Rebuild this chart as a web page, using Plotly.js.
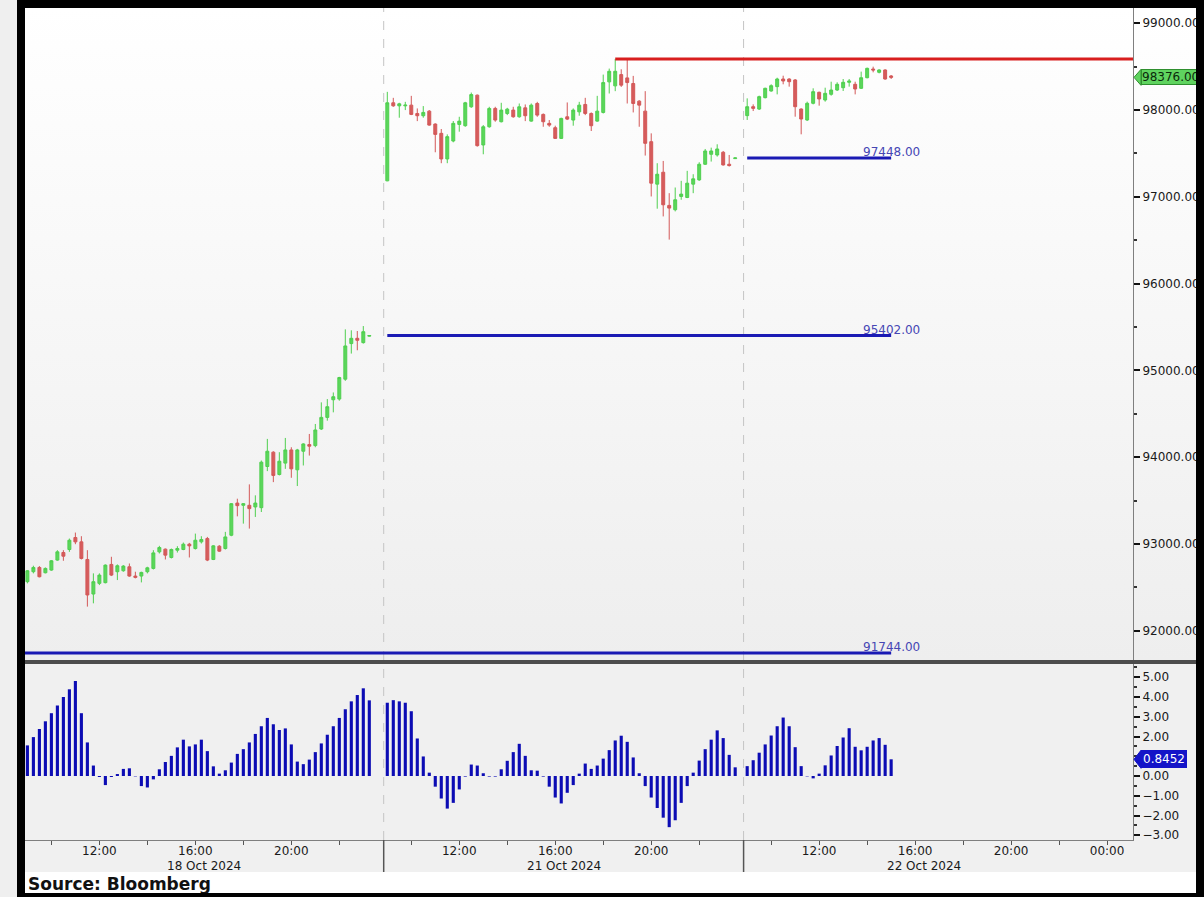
<!DOCTYPE html>
<html><head><meta charset="utf-8">
<script src="https://cdn.plot.ly/plotly-3.0.1.min.js"></script>
<style>
html,body{margin:0;padding:0;background:#efefef;width:1204px;height:897px;overflow:hidden;}
.abs{position:absolute;}
</style></head><body>
<div class="abs" style="left:25px;top:8px;width:1171px;height:652px;background:linear-gradient(#ffffff,#eeeeee);"></div>
<div class="abs" style="left:25px;top:660px;width:1171px;height:212px;background:#f0f0f0;"></div>
<div class="abs" style="left:25px;top:872px;width:1171px;height:21px;background:#ffffff;"></div>
<div id="chart" class="abs" style="left:0;top:0;width:1204px;height:897px;"></div>
<div class="abs" style="left:17px;top:0;width:8px;height:897px;background:#000;"></div>
<div class="abs" style="left:17px;top:0;width:1187px;height:8px;background:#000;"></div>
<div class="abs" style="left:1196px;top:0;width:8px;height:897px;background:#000;"></div>
<div class="abs" style="left:17px;top:893px;width:1187px;height:4px;background:#000;"></div>
<script>
// ---------- data ----------
const sessionDates = ['18 Oct 2024', '21 Oct 2024', '22 Oct 2024'];
const sessionOpenHour = 9;      // each session runs 09:00 -> 24:00
const sessionHours = 15;
const barMinutes = 15;

const open18  = [92566,92681,92730,92669,92700,92815,92902,92937,93075,93025,92822,92424,92547,92555,92765,92681,92692,92738,92631,92631,92681,92719,92910,92941,92845,92929,92937,92998,92948,93025,93063,92822,92975,92948,93101,93472,93446,93446,93427,93419,93893,94058,93801,93932,94084,93855,94069,94146,94134,94325,94459,94662,94670,94899,95309,95370,95320,95395];
const high18  = [92700,92750,92746,92730,92815,92929,92929,93063,93132,93090,92929,92662,92662,92765,92853,92765,92757,92776,92681,92681,92738,92929,92979,92948,92948,92975,93017,93013,93120,93090,93082,92987,92987,93140,93472,93522,93472,93687,93561,93962,94211,94069,94058,94222,94115,94096,94161,94268,94383,94632,94670,94746,94926,95473,95462,95454,95511,95406];
const low18   = [92547,92662,92616,92662,92692,92807,92807,92910,92998,92822,92279,92317,92527,92547,92631,92585,92681,92623,92604,92558,92662,92707,92891,92822,92834,92902,92929,92845,92937,93006,92803,92815,92910,92937,93090,93319,93235,93178,93312,93369,93840,93713,93790,93866,93763,93668,93905,94019,94115,94314,94421,94517,94651,94880,95194,95232,95309,95390];
const close18 = [92692,92730,92623,92719,92807,92910,92860,93044,93025,92834,92413,92566,92642,92757,92642,92750,92746,92631,92616,92673,92726,92898,92960,92872,92937,92948,92998,92979,93044,93052,92815,92979,92918,93082,93465,93442,93465,93408,93472,93943,94069,93790,93954,94084,93866,94084,94153,94127,94314,94459,94582,94697,94918,95282,95370,95347,95446,95402];
const hist18  = [1.55,1.97,2.38,2.77,3.18,3.57,4.0,4.39,4.81,3.18,1.70,0.53,-0.05,-0.46,-0.05,0.1,0.36,0.39,-0.02,-0.51,-0.58,-0.17,0.34,0.71,1.02,1.45,1.84,1.50,1.60,1.84,1.26,0.49,0.12,0.29,0.68,1.12,1.36,1.70,2.13,2.52,2.94,2.62,2.33,2.41,1.60,0.73,0.60,0.83,1.21,1.65,2.09,2.52,2.94,3.38,3.78,4.10,4.44,3.83];

const open21  = [97184,98083,98048,98048,98056,97960,97934,97987,97838,97731,97436,97643,97834,97819,98037,98171,97597,97807,98018,97865,97960,97999,97922,98025,97872,98075,97949,97846,97796,97673,97922,97884,97979,98064,97960,97872,97972,98324,98278,98408,98370,98305,98102,97987,97635,97146,97283,96901,96851,97004,96992,97146,97195,97375,97490,97482,97513,97375,97440];
const high21  = [98209,98140,98083,98094,98163,98018,98045,97999,97846,97781,97719,97873,97922,98094,98201,98178,97826,98037,98037,98083,98025,98037,98075,98064,98075,98094,97960,97884,97819,97911,98087,98018,98094,98140,97972,98163,98408,98477,98588,98469,98580,98393,98113,98217,97731,97387,97413,97042,97107,97184,97299,97260,97398,97551,97566,97605,97528,97482,97452];
const low21   = [97180,98037,97911,97999,97941,97872,97911,97819,97513,97387,97387,97628,97750,97807,98025,97578,97490,97796,97865,97857,97941,97911,97911,97872,97865,97922,97807,97807,97666,97666,97884,97819,97934,97941,97758,97865,97960,98190,98217,98266,98075,97972,97807,97475,97004,96863,96774,96507,96832,96966,96985,97042,97184,97367,97406,97463,97360,97348,97438];
const close21 = [98083,98048,98071,98056,97949,97934,97972,97826,97719,97436,97693,97846,97872,98083,98178,97589,97807,98018,97884,97999,98010,97922,98037,97934,98056,97941,97865,97826,97673,97903,97895,97999,98056,97960,97819,97987,98316,98446,98446,98286,98316,98075,98056,97616,97157,97260,96908,96870,96966,97031,97157,97207,97375,97528,97528,97551,97367,97360,97448];
const hist21  = [3.71,3.84,3.78,3.71,3.28,1.90,0.99,0.17,-0.54,-1.14,-1.65,-1.36,-0.68,-0.03,0.58,0.53,0.14,-0.03,-0.03,0.34,0.77,1.21,1.63,1.02,0.29,0.27,-0.03,-0.54,-1.09,-1.39,-0.85,-0.46,0.12,0.63,0.36,0.53,0.88,1.31,1.80,2.04,1.73,0.94,0.14,-0.51,-1.09,-1.62,-2.11,-2.59,-2.24,-1.36,-0.51,0.17,0.78,1.36,1.84,2.31,1.92,1.07,0.44];

const open22  = [97935,98038,98011,98142,98219,98269,98357,98357,98346,98011,97885,98077,98204,98115,98181,98230,98257,98319,98296,98250,98372,98472,98434,98461,98392];
const high22  = [98134,98065,98165,98257,98296,98372,98395,98365,98357,98019,98096,98250,98211,98257,98326,98319,98357,98357,98326,98442,98488,98499,98469,98469,98403];
const low22   = [97885,97988,98000,98134,98211,98180,98296,98269,97923,97720,97873,98065,98050,98096,98165,98219,98219,98269,98180,98242,98365,98434,98422,98349,98357];
const close22 = [98038,98019,98154,98250,98280,98357,98334,98326,98038,97896,98077,98211,98127,98192,98230,98296,98319,98334,98242,98372,98480,98461,98461,98357,98376];
const hist22  = [0.50,0.80,1.18,1.60,2.05,2.52,2.96,2.52,1.46,0.50,-0.02,-0.12,0.12,0.54,1.04,1.52,1.95,2.42,1.48,1.30,1.48,1.80,1.92,1.58,0.8452];

const prevCloses = [91744, 95402, 97448];   // previous session closes
const priceTicks = [92000, 93000, 94000, 95000, 96000, 97000, 98000, 99000];
const histTicks  = [-3, -2, -1, 0, 2, 3, 4, 5];   // 1.00 is covered by the last-value tag
const tickHours  = [10, 12, 14, 16, 18, 20, 22];
const labelHours = [12, 16, 20];
const sourceText = 'Source: Bloomberg';

// ---------- build ----------
const sessions = [
  {o: open18, h: high18, l: low18, c: close18, m: hist18},
  {o: open21, h: high21, l: low21, c: close21, m: hist21},
  {o: open22, h: high22, l: low22, c: close22, m: hist22}
];
const X = [], O = [], H = [], L = [], C = [], M = [];
const firstX = [], lastX = [];
sessions.forEach((s, k) => {
  s.o.forEach((v, i) => {
    X.push(k * sessionHours + i * barMinutes / 60);
    O.push(v); H.push(s.h[i]); L.push(s.l[i]); C.push(s.c[i]); M.push(s.m[i]);
  });
  firstX.push(k * sessionHours);
  lastX.push(k * sessionHours + (s.o.length - 1) * barMinutes / 60);
});
const xMin = -0.1, xMax = 46.08;
const endX = lastX[lastX.length - 1];
const lastClose = C[C.length - 1];
const lastHist = M[M.length - 1];

// peak high of session 2 (resistance)
let peakIdx = 0;
high21.forEach((v, i) => { if (v > high21[peakIdx]) peakIdx = i; });
const peakX = sessionHours + peakIdx * barMinutes / 60;
const peakVal = high21[peakIdx];

const F = 'DejaVu Sans';
const traces = [];
traces.push({
  type: 'candlestick', x: X, open: O, high: H, low: L, close: C,
  xaxis: 'x', yaxis: 'y', whiskerwidth: 0, hoverinfo: 'skip', showlegend: false,
  increasing: {line: {color: '#4fcf4f', width: 1}, fillcolor: '#5bd65b'},
  decreasing: {line: {color: '#d35858', width: 1}, fillcolor: '#d65c5c'}
});
traces.push({
  type: 'bar', x: X, y: M, xaxis: 'x', yaxis: 'y2', width: 0.13,
  marker: {color: '#0c0cb4', line: {width: 0}}, hoverinfo: 'skip', showlegend: false
});
prevCloses.forEach((lv, k) => {
  traces.push({
    type: 'scatter', mode: 'lines', x: [k === 0 ? xMin : firstX[k], endX], y: [lv, lv],
    xaxis: 'x', yaxis: 'y', line: {color: '#1a1ab4', width: 3}, hoverinfo: 'skip', showlegend: false
  });
});
traces.push({
  type: 'scatter', mode: 'lines', x: [peakX, xMax], y: [peakVal, peakVal],
  xaxis: 'x', yaxis: 'y', line: {color: '#d81e1e', width: 3}, hoverinfo: 'skip', showlegend: false
});

// x ticks
const tv = [], tt = [];
sessions.forEach((s, k) => {
  tickHours.forEach(h => {
    tv.push(k * sessionHours + (h - sessionOpenHour));
    tt.push(labelHours.includes(h) ? (h < 10 ? '0' : '') + h + ':00' : '');
  });
});
tv.push((sessions.length - 1) * sessionHours + (24 - sessionOpenHour));
tt.push('00:00');

const plotTop = 8, plotBottom = 840, plotH = plotBottom - plotTop;
const py = (pix) => (plotBottom - pix) / plotH;   // page pixel -> paper y

const shapes = [];
firstX.slice(1).forEach(x0 => {
  shapes.push({type: 'line', xref: 'x', yref: 'paper', x0: x0 - 0.15, x1: x0 - 0.15, y0: 0, y1: 1,
    line: {color: '#c4c4c4', width: 1, dash: 'dash'}, layer: 'below'});
  shapes.push({type: 'line', xref: 'x', yref: 'paper', x0: x0 - 0.15, x1: x0 - 0.15, y0: 0, y1: py(872),
    line: {color: '#555555', width: 1.5}});
});
// panel separator
shapes.push({type: 'rect', xref: 'paper', yref: 'paper', x0: 0, x1: (1196 - 25) / 1108, y0: py(664), y1: py(660),
  fillcolor: '#4d4d4d', line: {width: 0}});
// current value arrows
shapes.push({type: 'path', xref: 'paper', yref: 'y', xsizemode: 'pixel', ysizemode: 'pixel',
  xanchor: 1, yanchor: lastClose, path: 'M 1 0 L 8 8 L 8 -8 Z',
  fillcolor: '#5fd35f', line: {color: '#2f8f2f', width: 1}});
shapes.push({type: 'path', xref: 'paper', yref: 'y2', xsizemode: 'pixel', ysizemode: 'pixel',
  xanchor: 1, yanchor: lastHist, path: 'M 1 0 L 8 9 L 8 -9 Z',
  fillcolor: '#1414c8', line: {color: '#1414c8', width: 1}});

const annotations = [];
sessionDates.forEach((d, k) => {
  annotations.push({xref: 'x', yref: 'paper', x: k * sessionHours + (16 - sessionOpenHour), y: py(866),
    xanchor: 'left', yanchor: 'middle', xshift: -30, text: d, showarrow: false,
    font: {family: F, size: 12, color: '#1a1a1a'}});
});
prevCloses.forEach(lv => {
  annotations.push({xref: 'x', yref: 'y', x: endX, y: lv, xanchor: 'center', yanchor: 'bottom', yshift: -3,
    text: lv.toFixed(2), showarrow: false, font: {family: F, size: 12, color: '#4646b4'}});
});
annotations.push({xref: 'paper', yref: 'y', x: 1, y: lastClose, xanchor: 'left', yanchor: 'middle', xshift: 8,
  text: lastClose.toFixed(2), showarrow: false, bgcolor: '#5fd35f', bordercolor: '#2f8f2f', borderwidth: 1,
  borderpad: 0, font: {family: F, size: 12, color: '#0b2a0b'}});
annotations.push({xref: 'paper', yref: 'y2', x: 1, y: lastHist, xanchor: 'left', yanchor: 'middle', xshift: 8,
  text: lastHist.toFixed(4), showarrow: false, bgcolor: '#1414c8', bordercolor: '#1414c8', borderwidth: 1,
  borderpad: 1, font: {family: F, size: 12, color: '#ffffff'}});
annotations.push({xref: 'paper', yref: 'paper', x: 1 / 1108, y: py(884), xanchor: 'left', yanchor: 'middle',
  text: '<b>' + sourceText + '</b>', showarrow: false, font: {family: F, size: 17, color: '#111111'}});

const yCommon = {
  side: 'right', showline: true, linecolor: '#7f7f7f', linewidth: 1, showgrid: false, zeroline: false,
  ticks: 'outside', ticklen: 6, tickwidth: 2, tickcolor: '#111', tickformat: '.2f', tickmode: 'array',
  tickfont: {family: F, size: 12, color: '#1a1a1a'}, fixedrange: true
};
const layout = {
  width: 1204, height: 897, margin: {l: 25, r: 71, t: plotTop, b: 897 - plotBottom, pad: 0},
  paper_bgcolor: 'rgba(0,0,0,0)', plot_bgcolor: 'rgba(0,0,0,0)', showlegend: false,
  font: {family: F, size: 12, color: '#1a1a1a'},
  xaxis: {range: [xMin, xMax], anchor: 'y2', showline: true, linecolor: '#7f7f7f', linewidth: 1,
    ticks: 'outside', ticklen: 4, tickcolor: '#555', tickmode: 'array', tickvals: tv, ticktext: tt,
    ticklabelstandoff: -4,
    showgrid: false, zeroline: false, rangeslider: {visible: false}, fixedrange: true,
    tickfont: {family: F, size: 12, color: '#1a1a1a'}},
  yaxis: Object.assign({}, yCommon, {domain: [py(660), 1], range: [91664, 99175], tickvals: priceTicks,
    minor: {tickmode: 'linear', tick0: 0, dtick: 500, ticks: 'outside', ticklen: 3, tickcolor: '#333', showgrid: false}}),
  yaxis2: Object.assign({}, yCommon, {domain: [0, py(664)], range: [-3.24, 5.671], tickvals: histTicks,
    minor: {tickmode: 'linear', tick0: 0, dtick: 0.5, ticks: 'outside', ticklen: 3, tickcolor: '#333', showgrid: false}}),
  shapes: shapes, annotations: annotations
};
Plotly.newPlot('chart', traces, layout, {staticPlot: true, displayModeBar: false});
</script>
</body></html>
